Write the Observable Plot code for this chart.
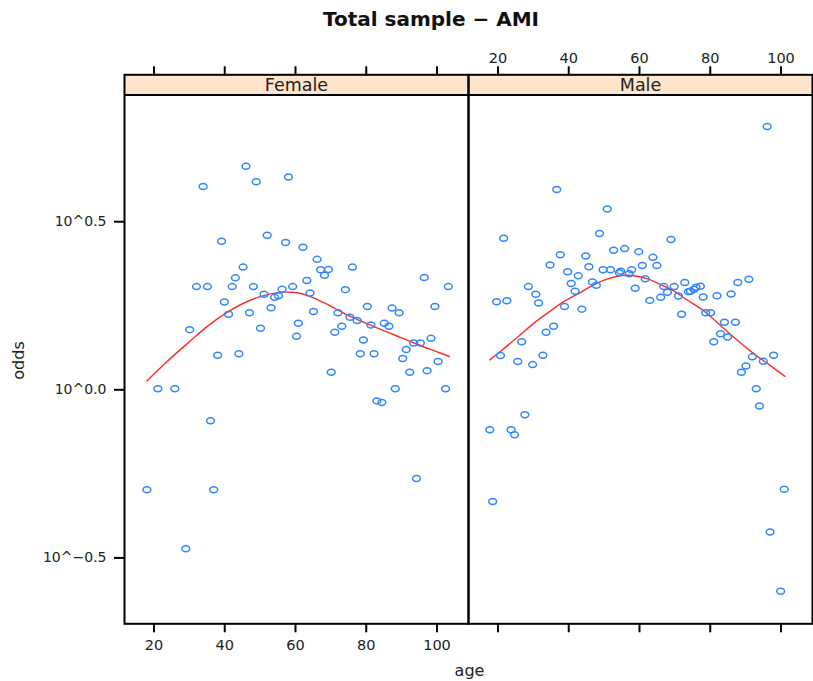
<!DOCTYPE html>
<html><head><meta charset="utf-8">
<script src="https://cdn.jsdelivr.net/npm/d3@7"></script>
<script src="https://cdn.jsdelivr.net/npm/@observablehq/plot@0.6"></script>
<style>
body{margin:0;background:#fff;}
#title{height:40px;box-sizing:border-box;padding-top:9px;padding-left:49px;width:813px;text-align:center;font:bold 20px/20px "DejaVu Sans";color:#111;}
#chart svg{display:block;}
</style></head><body>
<div id="title">Total sample − AMI</div>
<div id="chart"></div>
<script>
const panels = ["Female", "Male"];
const xTicks = [20, 40, 60, 80, 100];
const yTicks = [-0.5, 0, 0.5];

// log10(odds) per age
const femaleAge = [18.0,21.1,25.9,29.0,30.1,32.0,33.9,35.1,36.0,36.9,38.0,39.1,39.9,41.1,42.1,43.0,44.0,45.2,46.0,47.0,48.1,48.9,50.1,51.1,52.0,53.1,54.1,55.2,56.2,57.2,58.0,59.2,60.3,60.8,62.1,63.2,64.1,65.1,66.1,67.1,68.2,69.3,70.1,71.1,72.0,73.1,74.1,75.4,76.1,77.4,78.3,79.2,80.3,81.3,82.2,83.0,84.4,85.1,86.4,87.3,88.2,89.3,90.3,91.3,92.3,93.4,94.2,95.3,96.4,97.2,98.3,99.4,100.3,102.4,103.2];
const femaleOdds = [-0.297,0.003,0.003,-0.473,0.179,0.307,0.605,0.307,-0.092,-0.297,0.103,0.442,0.261,0.225,0.307,0.333,0.107,0.365,0.665,0.229,0.307,0.619,0.183,0.284,0.460,0.244,0.275,0.280,0.299,0.438,0.633,0.307,0.159,0.198,0.424,0.325,0.288,0.233,0.388,0.357,0.341,0.358,0.052,0.171,0.229,0.189,0.298,0.216,0.365,0.206,0.107,0.148,0.248,0.193,0.107,-0.033,-0.038,0.198,0.189,0.243,0.003,0.229,0.093,0.120,0.052,0.139,-0.264,0.139,0.334,0.057,0.153,0.248,0.084,0.003,0.307];

const maleAge = [17.7,18.5,19.6,20.7,21.6,22.5,23.7,24.7,25.6,26.7,27.6,28.6,29.8,30.7,31.5,32.7,33.6,34.7,35.7,36.6,37.6,38.8,39.7,40.7,41.8,42.7,43.7,44.8,45.7,46.7,47.8,48.7,49.7,50.9,51.8,52.7,54.3,54.7,55.8,57.1,57.8,58.8,59.8,60.8,61.6,62.9,63.8,64.9,66.0,66.9,67.9,68.9,69.8,71.0,71.9,72.8,73.8,74.4,75.4,76.0,77.2,78.0,78.7,80.1,81.0,81.9,82.9,84.0,84.9,85.9,87.1,87.8,88.8,90.1,90.9,91.9,93.0,93.9,95.0,96.1,96.9,97.9,99.9,100.9];
const maleOdds = [-0.119,-0.332,0.262,0.102,0.451,0.265,-0.119,-0.134,0.084,0.143,-0.074,0.307,0.075,0.284,0.258,0.103,0.171,0.371,0.189,0.596,0.402,0.248,0.351,0.316,0.293,0.339,0.240,0.398,0.366,0.321,0.311,0.465,0.357,0.538,0.357,0.415,0.348,0.353,0.420,0.345,0.357,0.302,0.411,0.370,0.330,0.266,0.394,0.370,0.275,0.307,0.290,0.447,0.307,0.279,0.225,0.319,0.292,0.293,0.299,0.305,0.308,0.276,0.229,0.229,0.143,0.280,0.167,0.201,0.157,0.285,0.201,0.319,0.052,0.071,0.329,0.098,0.003,-0.048,0.085,0.783,-0.423,0.103,-0.599,-0.296];

// smooth fit curves
const femaleFitAge = [18,24,30,35,40,45,50,55,59,62,65,68,71,76,82,88,94,100,103.5];
const femaleFitOdds = [0.026,0.087,0.143,0.188,0.226,0.256,0.277,0.289,0.290,0.285,0.274,0.259,0.243,0.216,0.189,0.163,0.137,0.113,0.099];
const maleFitAge = [17.7,21,25.6,30,35,39,43.4,47,51,55,58,62.3,66.6,70,73,78,85.5,92,97,101.1];
const maleFitOdds = [0.089,0.117,0.157,0.197,0.236,0.265,0.290,0.312,0.330,0.340,0.340,0.330,0.310,0.292,0.270,0.236,0.167,0.110,0.072,0.040];

const rows = [
  ...femaleAge.map((a, i) => ({sex: "Female", age: a, val: femaleOdds[i]})),
  ...maleAge.map((a, i) => ({sex: "Male", age: a, val: maleOdds[i]}))
];
const fitRows = [
  ...femaleFitAge.map((a, i) => ({sex: "Female", age: a, val: femaleFitOdds[i]})),
  ...maleFitAge.map((a, i) => ({sex: "Male", age: a, val: maleFitOdds[i]}))
];

const xMin = 11.67, xMax = 108.9;
const yMin = -0.696, yTop = 0.877, stripTop = 0.937;

const ellipse = {
  draw(ctx, size) {
    const s = Math.sqrt(size / Math.PI);
    const rx = s * 1.3, ry = s, k = 0.5523;
    ctx.moveTo(rx, 0);
    ctx.bezierCurveTo(rx, ry * k, rx * k, ry, 0, ry);
    ctx.bezierCurveTo(-rx * k, ry, -rx, ry * k, -rx, 0);
    ctx.bezierCurveTo(-rx, -ry * k, -rx * k, -ry, 0, -ry);
    ctx.bezierCurveTo(rx * k, -ry, rx, -ry * k, rx, 0);
    ctx.closePath();
  }
};

const fmtY = d => "10^" + (d < 0 ? "−" : "") + Math.abs(d).toFixed(1);

const chart = Plot.plot({
  width: 813, height: 641,
  marginTop: 34.3, marginBottom: 57.7, marginLeft: 123.3, marginRight: 1,
  style: {fontFamily: "DejaVu Sans", fontSize: "14.5px", color: "#111", background: "#fff"},
  fx: {domain: panels, padding: 0, axis: null},
  x: {domain: [xMin, xMax], axis: null},
  y: {domain: [yMin, stripTop], axis: null},
  marks: [
    Plot.rect(panels, {fx: d => d, y1: yTop, y2: stripTop, fill: "#ffe5cc"}),
    Plot.ruleY([yTop], {strokeWidth: 2, stroke: "#000"}),
    Plot.frame({strokeWidth: 2, stroke: "#000"}),
    Plot.axisX({anchor: "top", ticks: xTicks, tickSize: 9, fill: "none", label: null, strokeWidth: 2, stroke: "#000"}),
    Plot.axisX({anchor: "bottom", ticks: xTicks, tickSize: 9, fill: "none", label: null, strokeWidth: 2, stroke: "#000"}),
    Plot.axisX({anchor: "bottom", facetAnchor: "left", ticks: xTicks, tickSize: 0, tickPadding: 16, label: null, fill: "#222"}),
    Plot.axisX({anchor: "top", facetAnchor: "right", ticks: xTicks, tickSize: 0, tickPadding: 11.5, label: null, fill: "#222"}),
    Plot.axisY({anchor: "left", facetAnchor: "left", ticks: yTicks, tickSize: 10, tickPadding: 8, tickFormat: fmtY, label: null, strokeWidth: 2, stroke: "#000", fill: "#222", fontSize: 14}),
    Plot.text(panels, {fx: d => d, text: d => d, frameAnchor: "top", lineAnchor: "middle", dy: 11, fontSize: 17.5, fill: "#222"}),
    Plot.line(fitRows, {fx: "sex", x: "age", y: "val", stroke: "#ff2a2a", strokeWidth: 1.4, curve: "catmull-rom"}),
    Plot.dot(rows, {fx: "sex", x: "age", y: "val", symbol: ellipse, r: 3.0, stroke: "#2f86ff", strokeWidth: 1.5, fill: "none"}),
    Plot.text(["age"], {facetAnchor: "left", frameAnchor: "bottom-right", textAnchor: "middle", lineAnchor: "middle", dx: 1, dy: 47, fontSize: 16, fill: "#222"}),
    Plot.text(["odds"], {facetAnchor: "left", frameAnchor: "left", textAnchor: "middle", lineAnchor: "middle", rotate: -90, dx: -105.3, dy: 11.2, fontSize: 16, fill: "#222"})
  ]
});
document.getElementById("chart").appendChild(chart);
</script>
</body></html>
